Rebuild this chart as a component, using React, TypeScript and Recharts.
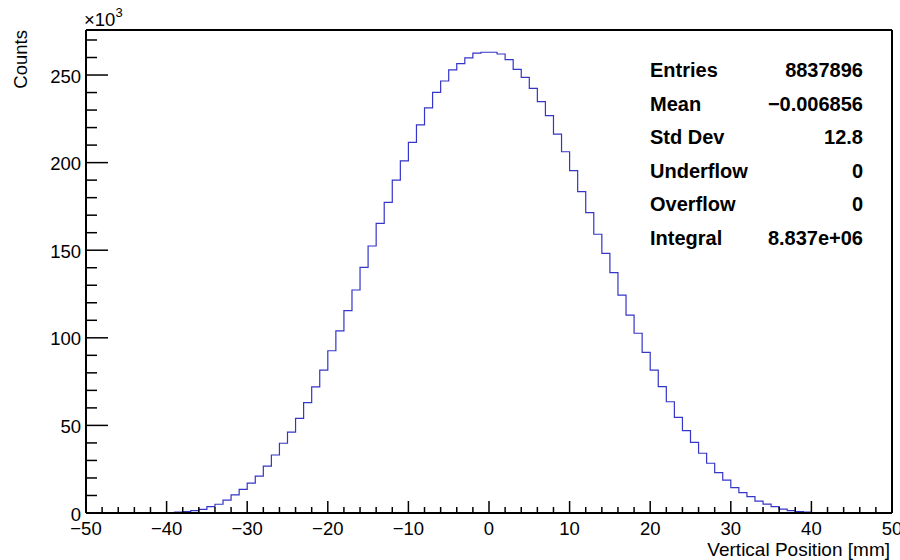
import React from 'react'
import { LineChart, Line, XAxis, YAxis, ReferenceLine } from 'recharts'

// histogram: 1 mm bins, first bin starts at -39 mm, counts in thousands
const FIRST_EDGE = -39
const counts = [
    0.5, 0.8, 1.4, 2.1, 3.6, 5.0, 7.4, 10.3, 13.5, 17.1,
    21.1, 26.8, 33.1, 39.8, 46.2, 54.0, 63.0, 72.0, 81.6, 92.6,
    104.0, 115.5, 127.3, 140.2, 152.4, 165.3, 177.3, 190.0, 201.0, 211.6,
    221.5, 231.3, 240.1, 246.6, 252.9, 256.5, 259.8, 262.5, 263.0, 263.0,
    262.0, 258.8, 253.2, 248.7, 242.4, 234.8, 226.8, 216.3, 206.2, 195.4,
    183.4, 171.4, 159.1, 148.2, 137.2, 124.4, 113.0, 102.6, 91.7, 81.6,
    72.1, 63.5, 54.6, 47.0, 40.3, 34.1, 28.4, 23.0, 18.8, 14.5,
    11.6, 9.3, 6.8, 5.1, 3.6, 2.2, 1.3, 0.8, 0.5,
]

const X_MIN = -50
const X_MAX = 50
const Y_MAX = 275.7

const xTicks = Array.from({ length: 51 }, (_, i) => X_MIN + i * 2)
const yTicks = Array.from({ length: 28 }, (_, i) => i * 10)

const statLabels = ['Entries', 'Mean', 'Std Dev', 'Underflow', 'Overflow', 'Integral']
const statValues = ['8837896', '\u22120.006856', '12.8', '0', '0', '8.837e+06']

const FONT = '"Liberation Sans", Arial, Helvetica, sans-serif'

// step outline: drop from 0 at the first edge, back to 0 at the last edge
const points = [
    { x: FIRST_EDGE - 1, y: 0 },
    ...counts.map((c, i) => ({ x: FIRST_EDGE + i, y: c })),
    { x: FIRST_EDGE + counts.length, y: 0 },
]

const fmt = (v: number) => (v < 0 ? `\u2212${Math.abs(v)}` : `${v}`)

const XTick = (props: any) => {
    const { x, y, payload } = props
    const v = payload.value
    const major = v % 10 === 0
    return (
        <g>
            <line x1={x} x2={x} y1={y} y2={y - (major ? 12 : 6)} stroke="#000" strokeWidth={1.5} />
            {major && (
                <text x={x} y={y + 22} textAnchor="middle" fontSize={18.5} fontFamily={FONT} fill="#000">
                    {fmt(v)}
                </text>
            )}
        </g>
    )
}

const YTick = (props: any) => {
    const { x, y, payload } = props
    const v = payload.value
    const major = v % 50 === 0
    return (
        <g>
            <line x1={x} x2={x + (major ? 22 : 11)} y1={y} y2={y} stroke="#000" strokeWidth={1.5} />
            {major && (
                <text x={x - 5} y={y + 7.5} textAnchor="end" fontSize={18.5} fontFamily={FONT} fill="#000">
                    {v}
                </text>
            )}
        </g>
    )
}

export default function App() {
    return (
        <div style={{ position: 'absolute', left: 0, top: 0, width: 900, height: 560, background: '#fff' }}>
            <LineChart width={900} height={560} data={points} margin={{ top: 30, right: 8, bottom: 0, left: 0 }}>
                <XAxis
                    dataKey="x"
                    type="number"
                    domain={[X_MIN, X_MAX]}
                    ticks={xTicks}
                    interval={0}
                    tickSize={0}
                    tickMargin={0}
                    tickLine={false}
                    tick={<XTick />}
                    axisLine={{ stroke: '#000', strokeWidth: 2 }}
                    height={47}
                    allowDataOverflow
                />
                <YAxis
                    type="number"
                    domain={[0, Y_MAX]}
                    ticks={yTicks}
                    interval={0}
                    tickSize={0}
                    tickMargin={0}
                    tickLine={false}
                    tick={<YTick />}
                    axisLine={{ stroke: '#000', strokeWidth: 2 }}
                    width={86}
                    allowDataOverflow
                />
                <ReferenceLine y={Y_MAX} stroke="#000" strokeWidth={2} />
                <ReferenceLine x={X_MAX} stroke="#000" strokeWidth={2} />
                <Line
                    type="stepAfter"
                    dataKey="y"
                    stroke="#3535c8"
                    strokeWidth={1.2}
                    dot={false}
                    isAnimationActive={false}
                />
            </LineChart>
            <svg
                width={900}
                height={560}
                style={{ position: 'absolute', left: 0, top: 0, pointerEvents: 'none' }}
                fontFamily={FONT}
            >
                <text x={27} y={30} transform="rotate(-90 27 30)" textAnchor="end" fontSize={18.5}>
                    Counts
                </text>
                <text x={84} y={26} fontSize={18.5}>
                    {'\u00d710'}
                    <tspan fontSize={13} dy={-9}>3</tspan>
                </text>
                <text x={890} y={556} textAnchor="end" fontSize={19}>
                    Vertical Position [mm]
                </text>
                {statLabels.map((label, i) => (
                    <g key={label}>
                        <text x={650} y={77 + i * 33.5} fontSize={20} fontWeight="bold">
                            {label}
                        </text>
                        <text x={863} y={77 + i * 33.5} fontSize={20} fontWeight="bold" textAnchor="end">
                            {statValues[i]}
                        </text>
                    </g>
                ))}
            </svg>
        </div>
    )
}
